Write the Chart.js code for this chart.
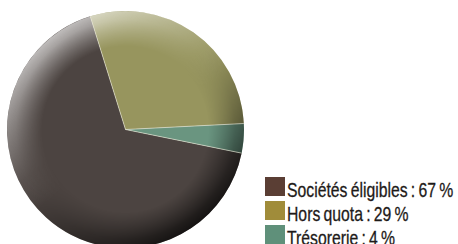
<!DOCTYPE html>
<html lang="fr">
<head>
  <meta charset="UTF-8">
  <title>Répartition</title>
  <script src="https://cdn.jsdelivr.net/npm/chart.js"></script>
  <style>
    html, body { margin: 0; padding: 0; background: #fff; overflow: hidden; width: 458px; height: 244px; }
    #pieWrap { position: absolute; left: 7px; top: 11px; width: 237px; height: 237px; }
    #legend { position: absolute; left: 265px; top: 177px; font-family: "Liberation Sans", Arial, sans-serif; font-size: 21px; color: #1e1a18; }
    .row { position: relative; height: 24px; white-space: nowrap; }
    .box { position: absolute; left: 0; top: 0; width: 20px; height: 19px; }
    .txt { position: absolute; left: 22px; top: 1px; line-height: 24px; word-spacing: -1.5px; transform: scaleX(0.75); transform-origin: 0 50%; -webkit-text-stroke: 0.3px #1e1a18; }
  </style>
</head>
<body>
  <div id="pieWrap"><canvas id="pie"></canvas></div>
  <div id="legend"></div>

  <script>
    // data
    const labels = ['Sociétés éligibles', 'Hors quota', 'Trésorerie'];
    const values = [67, 29, 4];
    const sliceColors = ['#4c4441', '#97955e', '#6a9580'];
    const legendColors = ['#5a3e34', '#a08c3a', '#5f907a'];

    // shading ring + light separators, drawn over the slices
    const shade = {
      id: 'shade',
      afterDatasetsDraw(chart) {
        const arcs = chart.getDatasetMeta(0).data;
        if (!arcs.length) return;
        const cx = arcs[0].x, cy = arcs[0].y, r = arcs[0].outerRadius;
        const c = chart.ctx;

        const off = document.createElement('canvas');
        off.width = chart.canvas.width;
        off.height = chart.canvas.height;
        const o = off.getContext('2d');
        const a = -2.2;
        const lg = o.createLinearGradient(cx + Math.cos(a) * r, cy + Math.sin(a) * r,
                                          cx - Math.cos(a) * r, cy - Math.sin(a) * r);
        lg.addColorStop(0, 'rgba(255,255,255,0.65)');
        lg.addColorStop(0.42, 'rgba(255,255,255,0.08)');
        lg.addColorStop(0.55, 'rgba(0,0,0,0.1)');
        lg.addColorStop(1, 'rgba(0,0,0,0.72)');
        o.fillStyle = lg;
        o.beginPath();
        o.arc(cx, cy, r, 0, Math.PI * 2);
        o.fill();
        o.globalCompositeOperation = 'destination-in';
        const rg = o.createRadialGradient(cx, cy, r * 0.7, cx, cy, r);
        rg.addColorStop(0, 'rgba(0,0,0,0)');
        rg.addColorStop(0.75, 'rgba(0,0,0,0.85)');
        rg.addColorStop(1, 'rgba(0,0,0,1)');
        o.fillStyle = rg;
        o.fillRect(0, 0, off.width, off.height);

        c.save();
        c.setTransform(1, 0, 0, 1, 0, 0);
        c.drawImage(off, 0, 0);
        c.restore();

        // separators
        c.save();
        c.strokeStyle = 'rgba(230,228,210,0.8)';
        c.lineWidth = 0.8;
        arcs.forEach(arc => {
          c.beginPath();
          c.moveTo(cx, cy);
          c.lineTo(cx + Math.cos(arc.startAngle) * r, cy + Math.sin(arc.startAngle) * r);
          c.stroke();
        });
        c.restore();
      }
    };

    new Chart(document.getElementById('pie'), {
      type: 'pie',
      data: {
        labels: labels,
        datasets: [{
          data: values,
          backgroundColor: sliceColors,
          borderWidth: 0
        }]
      },
      options: {
        responsive: true,
        maintainAspectRatio: false,
        animation: false,
        rotation: 101.5,
        layout: { padding: 0 },
        plugins: { legend: { display: false }, tooltip: { enabled: false } }
      },
      plugins: [shade]
    });

    const leg = document.getElementById('legend');
    labels.forEach((l, i) => {
      const row = document.createElement('div');
      row.className = 'row';
      row.innerHTML = '<span class="box" style="background:' + legendColors[i] + '"></span>' +
        '<span class="txt">' + l + ' : ' + values[i] + ' %</span>';
      leg.appendChild(row);
    });
  </script>
</body>
</html>
